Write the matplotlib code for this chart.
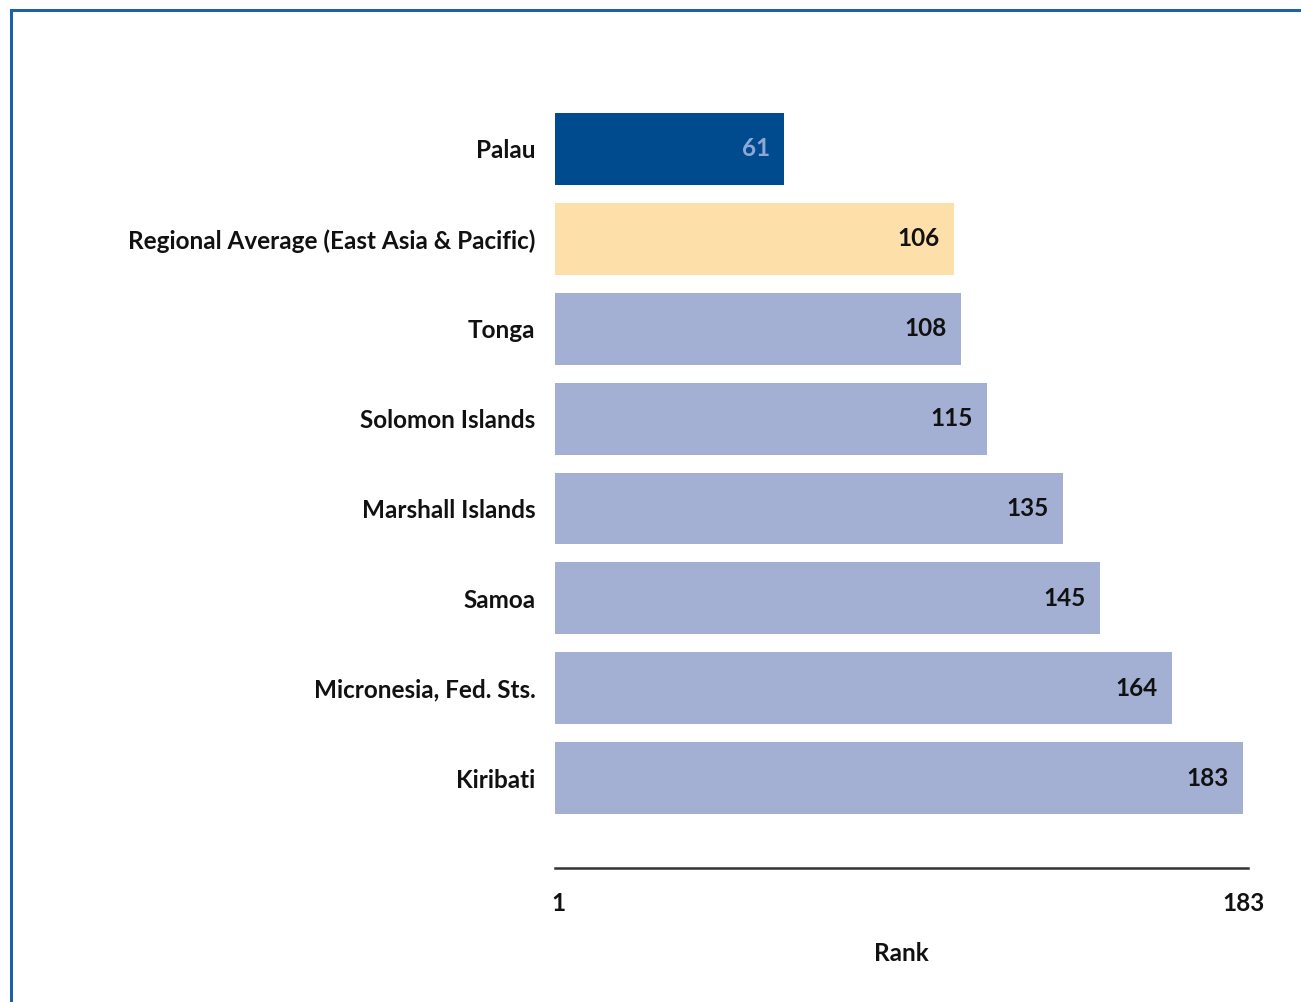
import matplotlib
matplotlib.use("Agg")
import matplotlib.pyplot as plt
from matplotlib.patches import Rectangle

categories = ["Palau", "Regional Average (East Asia & Pacific)", "Tonga", "Solomon Islands",
              "Marshall Islands", "Samoa", "Micronesia, Fed. Sts.", "Kiribati"]
ranks = [61, 106, 108, 115, 135, 145, 164, 183]
bar_colors = ["#004B8D", "#FDDFA9", "#A4B0D3", "#A4B0D3", "#A4B0D3", "#A4B0D3", "#A4B0D3", "#A4B0D3"]
label_colors = ["#8FA6D6", "#111111", "#111111", "#111111", "#111111", "#111111", "#111111", "#111111"]
tick_values = [1, 183]
tick_labels = ["1", "183"]

plt.rcParams['font.family'] = ['Lato', 'DejaVu Sans']
FS = 17.5

W, H = 1301, 1002
fig = plt.figure(figsize=(W / 100, H / 100), dpi=100)
fig.patch.set_facecolor("white")

# outer frame
fig.patches.append(Rectangle((11 / W, -0.1), 1.2, 1 - 10 / H + 0.1, transform=fig.transFigure,
                             fill=False, edgecolor="#1F5FAA", linewidth=2.2))

ax = fig.add_axes([555 / W, 1 - 868 / H, (1248 - 555) / W, (868 - 95) / H])
y = list(range(len(categories)))
ax.barh(y, ranks, height=0.8, color=bar_colors, edgecolor="none")
ax.set_ylim(8.0, -0.6)
ax.set_xlim(0, 184.3)

for yi, r, c in zip(y, ranks, label_colors):
    ax.text(r - 3.8, yi, str(r), ha="right", va="center", fontsize=FS, fontweight="bold", color=c)

ax.set_yticks(y)
ax.set_yticklabels(categories, fontsize=FS, fontweight="bold", color="#111111")
ax.set_xticks(tick_values)
ax.set_xticklabels(tick_labels, fontsize=FS, fontweight="bold", color="#111111")
ax.tick_params(axis="y", length=0, pad=14)
ax.tick_params(axis="x", length=0, pad=17)

for s in ["top", "right", "left"]:
    ax.spines[s].set_visible(False)
ax.spines["bottom"].set_color("#333333")
ax.spines["bottom"].set_linewidth(1.8)

ax.set_xlabel("Rank", fontsize=FS, fontweight="bold", color="#111111", labelpad=20)

fig.savefig("out.png", dpi=100)
